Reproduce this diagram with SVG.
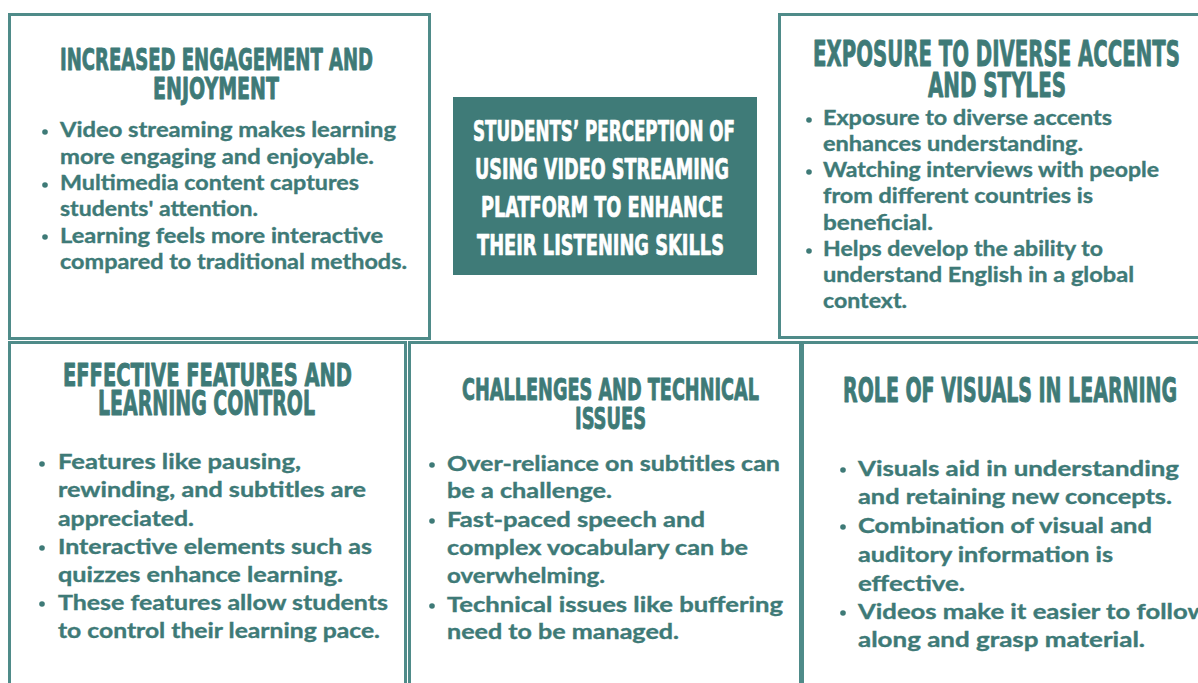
<svg xmlns="http://www.w3.org/2000/svg" width="1198" height="683" viewBox="0 0 1198 683">
<style>
.box{fill:#ffffff;stroke:#4f8b89;stroke-width:3}
.hd{font-family:"Liberation Sans Narrow","DejaVu Sans Condensed","DejaVu Sans",sans-serif;font-weight:bold;fill:#3e7a77;stroke:#3e7a77;stroke-width:0.9;stroke-linejoin:round}
.ct{font-family:"Liberation Sans Narrow","DejaVu Sans Condensed","DejaVu Sans",sans-serif;font-weight:bold;fill:#ffffff;stroke:#ffffff;stroke-width:0.7;stroke-linejoin:round;font-size:29px}
.bd{font-family:Lato,"Open Sans","DejaVu Sans",sans-serif;font-weight:bold;fill:#3e7a77;stroke:#3e7a77;stroke-width:0.35;font-size:20px}
.dot{fill:#3e7a77}
</style>
<rect x="0" y="0" width="1198" height="683" fill="#ffffff"/>
<g id="connectors"></g>

<g id="node-engagement">
<rect class="box" x="9.5" y="14.5" width="420" height="324"/>
<text class="hd" font-size="31" x="60" y="70" textLength="313" lengthAdjust="spacingAndGlyphs">INCREASED ENGAGEMENT AND</text>
<text class="hd" font-size="31" x="153" y="99" textLength="126" lengthAdjust="spacingAndGlyphs">ENJOYMENT</text>
<circle class="dot" cx="45" cy="132" r="2.8"/>
<circle class="dot" cx="45" cy="185" r="2.8"/>
<circle class="dot" cx="45" cy="237" r="2.8"/>
<text class="bd" x="60" y="137" textLength="336" lengthAdjust="spacingAndGlyphs">Video streaming makes learning</text>
<text class="bd" x="60" y="164" textLength="314" lengthAdjust="spacingAndGlyphs">more engaging and enjoyable.</text>
<text class="bd" x="60" y="190" textLength="299" lengthAdjust="spacingAndGlyphs">Multimedia content captures</text>
<text class="bd" x="60" y="216" textLength="198" lengthAdjust="spacingAndGlyphs">students' attention.</text>
<text class="bd" x="60" y="243" textLength="323" lengthAdjust="spacingAndGlyphs">Learning feels more interactive</text>
<text class="bd" x="60" y="269" textLength="347" lengthAdjust="spacingAndGlyphs">compared to traditional methods.</text>
</g>

<g id="node-accents">
<rect class="box" x="779.5" y="14.5" width="440" height="323"/>
<text class="hd" font-size="36" x="813" y="66" textLength="367" lengthAdjust="spacingAndGlyphs">EXPOSURE TO DIVERSE ACCENTS</text>
<text class="hd" font-size="34" x="928" y="97" textLength="138" lengthAdjust="spacingAndGlyphs">AND STYLES</text>
<circle class="dot" cx="809" cy="120" r="2.8"/>
<circle class="dot" cx="809" cy="172" r="2.8"/>
<circle class="dot" cx="809" cy="251" r="2.8"/>
<text class="bd" x="823" y="125" textLength="289" lengthAdjust="spacingAndGlyphs">Exposure to diverse accents</text>
<text class="bd" x="823" y="151" textLength="260" lengthAdjust="spacingAndGlyphs">enhances understanding.</text>
<text class="bd" x="823" y="177" textLength="336" lengthAdjust="spacingAndGlyphs">Watching interviews with people</text>
<text class="bd" x="823" y="203" textLength="270" lengthAdjust="spacingAndGlyphs">from different countries is</text>
<text class="bd" x="823" y="230" textLength="110" lengthAdjust="spacingAndGlyphs">beneficial.</text>
<text class="bd" x="823" y="256" textLength="280" lengthAdjust="spacingAndGlyphs">Helps develop the ability to</text>
<text class="bd" x="823" y="282" textLength="311" lengthAdjust="spacingAndGlyphs">understand English in a global</text>
<text class="bd" x="823" y="308" textLength="84" lengthAdjust="spacingAndGlyphs">context.</text>
</g>

<g id="node-center">
<rect x="453" y="97" width="304" height="178" fill="#3f7b78"/>
<text class="ct" x="473" y="141" textLength="262" lengthAdjust="spacingAndGlyphs">STUDENTS’ PERCEPTION OF</text>
<text class="ct" x="475" y="179" textLength="254" lengthAdjust="spacingAndGlyphs">USING VIDEO STREAMING</text>
<text class="ct" x="481" y="217" textLength="242" lengthAdjust="spacingAndGlyphs">PLATFORM TO ENHANCE</text>
<text class="ct" x="477" y="255" textLength="247" lengthAdjust="spacingAndGlyphs">THEIR LISTENING SKILLS</text>
</g>

<g id="node-features">
<rect class="box" x="9.5" y="342.5" width="396" height="360"/>
<text class="hd" font-size="32" x="63" y="386" textLength="289" lengthAdjust="spacingAndGlyphs">EFFECTIVE FEATURES AND</text>
<text class="hd" font-size="33" x="98" y="415" textLength="217" lengthAdjust="spacingAndGlyphs">LEARNING CONTROL</text>
<circle class="dot" cx="42" cy="464" r="2.8"/>
<circle class="dot" cx="42" cy="548" r="2.8"/>
<circle class="dot" cx="42" cy="604" r="2.8"/>
<text class="bd" x="58" y="469" textLength="243" lengthAdjust="spacingAndGlyphs">Features like pausing,</text>
<text class="bd" x="58" y="497" textLength="308" lengthAdjust="spacingAndGlyphs">rewinding, and subtitles are</text>
<text class="bd" x="58" y="526" textLength="136" lengthAdjust="spacingAndGlyphs">appreciated.</text>
<text class="bd" x="58" y="554" textLength="314" lengthAdjust="spacingAndGlyphs">Interactive elements such as</text>
<text class="bd" x="58" y="582" textLength="285" lengthAdjust="spacingAndGlyphs">quizzes enhance learning.</text>
<text class="bd" x="58" y="610" textLength="330" lengthAdjust="spacingAndGlyphs">These features allow students</text>
<text class="bd" x="58" y="638" textLength="322" lengthAdjust="spacingAndGlyphs">to control their learning pace.</text>
</g>

<g id="node-challenges">
<rect class="box" x="409.5" y="342.5" width="391" height="360"/>
<text class="hd" font-size="31" x="462" y="400" textLength="297" lengthAdjust="spacingAndGlyphs">CHALLENGES AND TECHNICAL</text>
<text class="hd" font-size="31" x="575" y="429" textLength="71" lengthAdjust="spacingAndGlyphs">ISSUES</text>
<circle class="dot" cx="432" cy="465" r="2.8"/>
<circle class="dot" cx="432" cy="521" r="2.8"/>
<circle class="dot" cx="432" cy="606" r="2.8"/>
<text class="bd" x="447" y="471" textLength="333" lengthAdjust="spacingAndGlyphs">Over-reliance on subtitles can</text>
<text class="bd" x="447" y="498" textLength="165" lengthAdjust="spacingAndGlyphs">be a challenge.</text>
<text class="bd" x="447" y="527" textLength="258" lengthAdjust="spacingAndGlyphs">Fast-paced speech and</text>
<text class="bd" x="447" y="555" textLength="301" lengthAdjust="spacingAndGlyphs">complex vocabulary can be</text>
<text class="bd" x="447" y="583" textLength="158" lengthAdjust="spacingAndGlyphs">overwhelming.</text>
<text class="bd" x="447" y="612" textLength="336" lengthAdjust="spacingAndGlyphs">Technical issues like buffering</text>
<text class="bd" x="447" y="639" textLength="232" lengthAdjust="spacingAndGlyphs">need to be managed.</text>
</g>

<g id="node-visuals">
<rect class="box" x="802.5" y="342.5" width="420" height="360"/>
<text class="hd" font-size="34" x="843" y="402" textLength="334" lengthAdjust="spacingAndGlyphs">ROLE OF VISUALS IN LEARNING</text>
<circle class="dot" cx="843" cy="470" r="2.8"/>
<circle class="dot" cx="843" cy="527" r="2.8"/>
<circle class="dot" cx="843" cy="613" r="2.8"/>
<text class="bd" font-size="20.5" x="858" y="476" textLength="321" lengthAdjust="spacingAndGlyphs">Visuals aid in understanding</text>
<text class="bd" font-size="20.5" x="858" y="504" textLength="314" lengthAdjust="spacingAndGlyphs">and retaining new concepts.</text>
<text class="bd" font-size="20.5" x="858" y="533" textLength="294" lengthAdjust="spacingAndGlyphs">Combination of visual and</text>
<text class="bd" font-size="20.5" x="858" y="562" textLength="255" lengthAdjust="spacingAndGlyphs">auditory information is</text>
<text class="bd" font-size="20.5" x="858" y="591" textLength="107" lengthAdjust="spacingAndGlyphs">effective.</text>
<text class="bd" font-size="20.5" x="858" y="619" textLength="350" lengthAdjust="spacingAndGlyphs">Videos make it easier to follow</text>
<text class="bd" font-size="20.5" x="858" y="647" textLength="287" lengthAdjust="spacingAndGlyphs">along and grasp material.</text>
</g>
</svg>
